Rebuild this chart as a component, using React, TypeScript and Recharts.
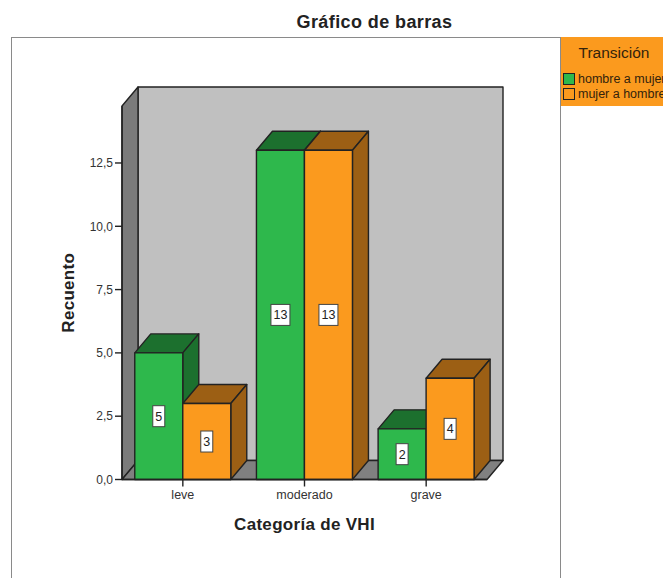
import { BarChart, Bar, XAxis, YAxis, LabelList, Legend, ReferenceArea } from 'recharts'

const categories = ['leve', 'moderado', 'grave']
const hombreAMujer = [5, 13, 2]
const mujerAHombre = [3, 13, 4]
const yTicks = [0, 2.5, 5, 7.5, 10, 12.5]

const data = categories.map((categoria, i) => ({
  categoria,
  hombre: hombreAMujer[i],
  mujer: mujerAHombre[i],
}))

const FONT = '"Liberation Sans", Arial, sans-serif'
const INK = '#222222'
const GREEN = '#2EB84C'
const GREEN_DARK = '#1C702E'
const ORANGE = '#FB9A1E'
const ORANGE_DARK = '#9C5F14'
const DEPTH_X = 16
const DEPTH_Y = 19

// back wall, side wall and floor of the 3D box
function Walls({ x, y, width, height }: any) {
  const bottom = y + height
  const right = x + width
  return (
    <g stroke={INK} strokeWidth={1.4} strokeLinejoin="round">
      <rect x={x + DEPTH_X} y={y - DEPTH_Y} width={width} height={height} fill="#C0C0C0" />
      <polygon
        points={`${x},${y} ${x + DEPTH_X},${y - DEPTH_Y} ${x + DEPTH_X},${bottom - DEPTH_Y} ${x},${bottom}`}
        fill="#7B7B7B"
      />
      <polygon
        points={`${x},${bottom} ${x + DEPTH_X},${bottom - DEPTH_Y} ${right + DEPTH_X},${bottom - DEPTH_Y} ${right},${bottom}`}
        fill="#808080"
      />
    </g>
  )
}

function Box3D({ x, y, width, height, fill, shade }: any) {
  const right = x + width
  const bottom = y + height
  return (
    <g stroke={INK} strokeWidth={1.4} strokeLinejoin="round">
      <polygon
        points={`${x},${y} ${x + DEPTH_X},${y - DEPTH_Y} ${right + DEPTH_X},${y - DEPTH_Y} ${right},${y}`}
        fill={shade}
      />
      <polygon
        points={`${right},${y} ${right + DEPTH_X},${y - DEPTH_Y} ${right + DEPTH_X},${bottom - DEPTH_Y} ${right},${bottom}`}
        fill={shade}
      />
      <rect x={x} y={y} width={width} height={height} fill={fill} />
    </g>
  )
}

function ValueLabel({ x, y, width, height, value }: any) {
  const cx = x + width / 2
  const cy = y + height / 2
  const w = String(value).length > 1 ? 19 : 12
  return (
    <g>
      <rect x={cx - w / 2} y={cy - 10.5} width={w} height={21} fill="#FFFFFF" stroke="#444444" strokeWidth={1} />
      <text x={cx} y={cy + 4.5} textAnchor="middle" fontFamily={FONT} fontSize={12.5} fill={INK}>
        {value}
      </text>
    </g>
  )
}

function TransicionLegend({ payload }: any) {
  return (
    <div style={{ width: 102, height: 69, background: ORANGE, fontFamily: FONT, color: '#33230c', overflow: 'hidden' }}>
      <div style={{ textAlign: 'center', fontSize: 15.5, paddingTop: 7, paddingLeft: 4, height: 27, lineHeight: '17px' }}>Transición</div>
      {(payload || []).map((item: any) => (
        <div key={item.value} style={{ display: 'flex', alignItems: 'center', height: 15.5, paddingLeft: 2, whiteSpace: 'nowrap' }}>
          <span
            style={{
              display: 'inline-block',
              flex: 'none',
              width: 10,
              height: 10,
              background: item.color,
              border: '1.5px solid #222222',
              marginRight: 3,
            }}
          />
          <span style={{ fontSize: 12.5 }}>{item.value}</span>
        </div>
      ))}
    </div>
  )
}

export default function App() {
  return (
    <div style={{ position: 'absolute', left: 0, top: 0, width: 663, height: 578, overflow: 'hidden', background: '#FFFFFF' }}>
      <div
        style={{
          position: 'absolute',
          left: 11,
          top: 37,
          width: 548,
          height: 600,
          border: '1.5px solid #8A8A8A',
        }}
      />
      <div
        style={{
          position: 'absolute',
          left: 11,
          width: 727,
          top: 12,
          textAlign: 'center',
          fontFamily: FONT,
          fontSize: 18,
          letterSpacing: 0.4,
          fontWeight: 'bold',
          color: INK,
        }}
      >
        Gráfico de barras
      </div>
      <div style={{ position: 'absolute', left: 0, top: 0 }}>
        <BarChart
          width={663}
          height={578}
          data={data}
          margin={{ top: 106, right: 176, bottom: 38.5, left: 52 }}
          barCategoryGap="10.5%"
          barGap={0}
        >
          <ReferenceArea y1={0} y2={14.75} ifOverflow="visible" shape={<Walls />} />
          <XAxis
            dataKey="categoria"
            height={60}
            interval={0}
            axisLine={{ stroke: INK, strokeWidth: 1.4 }}
            tickLine={{ stroke: INK, strokeWidth: 1.4 }}
            tickSize={7}
            tickMargin={4}
            tick={{ fontFamily: FONT, fontSize: 12.5, fill: '#333333' }}
            label={{
              value: 'Categoría de VHI',
              position: 'insideBottom',
              offset: 10,
              style: { fontFamily: FONT, fontSize: 17, letterSpacing: 0.3, fontWeight: 'bold', fill: INK },
            }}
          />
          <YAxis
            width={70}
            domain={[0, 14.75]}
            ticks={yTicks}
            interval={0}
            tickFormatter={(v: number) => v.toFixed(1).replace('.', ',')}
            axisLine={{ stroke: INK, strokeWidth: 1.4 }}
            tickLine={{ stroke: INK, strokeWidth: 1.4 }}
            tickSize={7}
            tick={{ fontFamily: FONT, fontSize: 12, fill: '#333333' }}
            label={{
              value: 'Recuento',
              angle: -90,
              position: 'insideLeft',
              offset: 16,
              style: { fontFamily: FONT, fontSize: 17, letterSpacing: 0.3, fontWeight: 'bold', fill: INK, textAnchor: 'middle' },
            }}
          />
          <Legend
            layout="vertical"
            align="center"
            verticalAlign="middle"
            wrapperStyle={{ position: 'absolute', left: 561, top: 37, width: 102, height: 69, margin: 0 }}
            content={<TransicionLegend />}
          />
          <Bar
            dataKey="hombre"
            name="hombre a mujer"
            fill={GREEN}
            isAnimationActive={false}
            shape={(props: any) => <Box3D {...props} fill={GREEN} shade={GREEN_DARK} />}
          >
            <LabelList dataKey="hombre" content={<ValueLabel />} />
          </Bar>
          <Bar
            dataKey="mujer"
            name="mujer a hombre"
            fill={ORANGE}
            isAnimationActive={false}
            shape={(props: any) => <Box3D {...props} fill={ORANGE} shade={ORANGE_DARK} />}
          >
            <LabelList dataKey="mujer" content={<ValueLabel />} />
          </Bar>
        </BarChart>
      </div>
    </div>
  )
}
